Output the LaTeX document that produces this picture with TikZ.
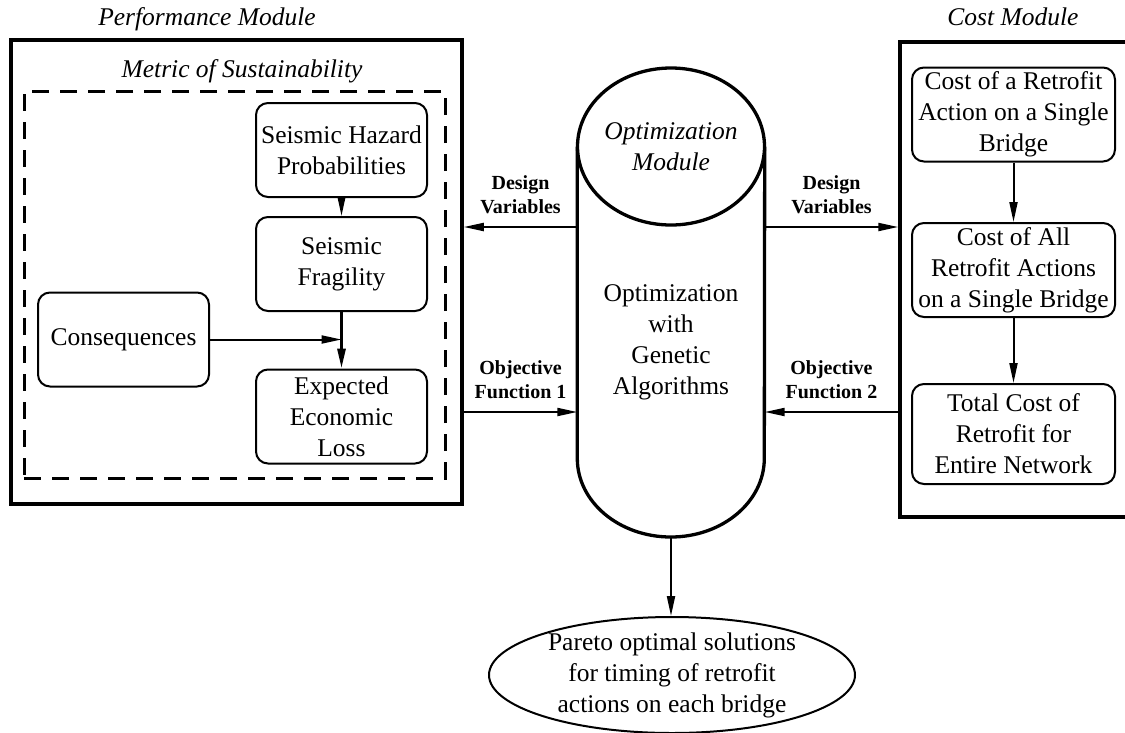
\documentclass[tikz,border=0pt]{standalone}
\usepackage{fontspec}
\setmainfont{Liberation Serif}
\usepackage{tikz}
\usetikzlibrary{arrows.meta,shapes.geometric}

\begin{document}
\begin{tikzpicture}[x=1pt,y=-1pt,>={Triangle[length=20pt,width=8pt]},
  every node/.style={inner sep=0pt},
  frame/.style={rectangle,draw=black,line width=3.5pt},
  dashframe/.style={rectangle,draw=black,line width=3pt,dash pattern=on 17pt off 11pt},
  block/.style={rectangle,rounded corners=12pt,draw=black,line width=2pt,minimum width=171pt,minimum height=94pt,align=center,font=\fontsize{25.5pt}{31pt}\selectfont},
  title/.style={font=\fontsize{25.5pt}{31pt}\selectfont\itshape},
  bodytext/.style={align=center,font=\fontsize{25.5pt}{31pt}\selectfont},
  lbl/.style={align=center,font=\fontsize{20pt}{24.5pt}\selectfont\bfseries},
  cyl/.style={draw=black,line width=3.3pt},
  flow/.style={->,draw=black,line width=2pt}]
\useasboundingbox (0,0) rectangle (1125,732);

% performance module
\node[frame,minimum width=451pt,minimum height=464pt] (perf) at (236.5,272) {};
\node[title,anchor=base] (perftitle) at (207,25) {Performance Module};
\node[dashframe,minimum width=421pt,minimum height=387pt] (metric) at (234.5,284.5) {};
\node[title,anchor=base] (metrictitle) at (242,77) {Metric of Sustainability};
\node[block] (hazard) at (341.5,150) {Seismic Hazard\\Probabilities};
\node[block] (fragility) at (341.5,264) {Seismic\\Fragility};
\node[block] (conseq) at (123.5,339.5) {Consequences};
\node[block] (loss) at (341.5,416.5) {Expected\\Economic\\Loss};
\draw[flow] (hazard) -- (fragility);
\draw[flow,line width=3pt] (fragility) -- (loss);
\draw[flow] (conseq.east) -- (conseq.east -| loss.north);

% optimization module
\node[title,align=center] (opttop) at (671,146.5) {Optimization\\Module};
\node[bodytext,minimum width=187pt,minimum height=390pt] (opt) at (671,342) {Optimization\\with\\Genetic\\Algorithms};
\draw[cyl] (opttop.center) ellipse [x radius=93.5pt,y radius=78.5pt];
\draw[cyl] (opt.west |- opttop.center) -- ++(0,312) arc[start angle=180,end angle=360,x radius=93.5pt,y radius=78.5pt] -- (opt.east |- opttop.center);

% cost module
\node[frame,minimum width=232pt,minimum height=475pt] (cost) at (1016,279.5) {};
\node[title,anchor=base] (costtitle) at (1013,25) {Cost Module};
\node[block,minimum width=203pt] (single) at (1013.5,114.5) {Cost of a Retrofit\\Action on a Single\\Bridge};
\node[block,minimum width=203pt] (allactions) at (1013.5,270) {Cost of All\\Retrofit Actions\\on a Single Bridge};
\node[block,minimum width=203pt,minimum height=100pt] (network) at (1013.5,434) {Total Cost of\\Retrofit for\\Entire Network};
\draw[flow] (single) -- (allactions);
\draw[flow] (allactions) -- (network);

% links between modules
\coordinate (dvrow) at (0,227);
\coordinate (ofrow) at (0,412);
\draw[flow] (opt.west |- dvrow) -- node[lbl,above=12pt] (dvleft) {Design\\Variables} (perf.east |- dvrow);
\draw[flow] (perf.east |- ofrow) -- node[lbl,above=12pt] (ofleft) {Objective\\Function 1} (opt.west |- ofrow);
\draw[flow] (opt.east |- dvrow) -- node[lbl,above=12pt] (dvright) {Design\\Variables} (cost.west |- dvrow);
\draw[flow] (cost.west |- ofrow) -- node[lbl,above=12pt] (ofright) {Objective\\Function 2} (opt.east |- ofrow);

% result
\node[ellipse,draw=black,line width=2pt,inner sep=-6pt,minimum width=366pt,minimum height=116pt,align=center,font=\fontsize{25.5pt}{31pt}\selectfont] (pareto) at (672,675) {Pareto optimal solutions\\for timing of retrofit\\actions on each bridge};
\draw[flow] (opt.south) -- (opt.south |- pareto.north);
\end{tikzpicture}
\end{document}
